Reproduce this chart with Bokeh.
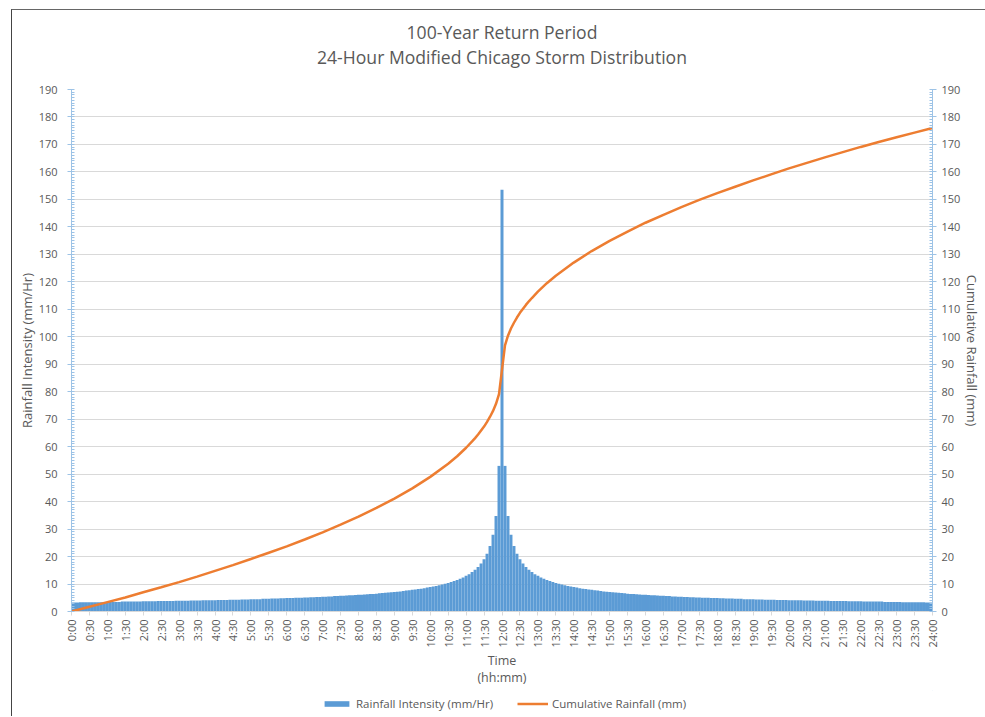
from math import pi
from bokeh.plotting import figure
from bokeh.layouts import column
from bokeh.models import (Range1d, LinearAxis, FixedTicker, SingleIntervalTicker, Div,
                          Legend, LegendItem, ColumnDataSource)
from bokeh.embed import file_html
from bokeh.resources import INLINE

# ---------------- data ----------------
# 5-minute rainfall intensity (mm/Hr), 0:00 .. 11:55
intensity_before = [
    3.3, 3.3, 3.3, 3.4, 3.4, 3.4, 3.4, 3.4, 3.4, 3.4, 3.4,
    3.5, 3.5, 3.5, 3.5, 3.5, 3.5,
    3.6, 3.6, 3.6, 3.6, 3.6, 3.6, 3.6,
    3.7, 3.7, 3.7, 3.7, 3.7,
    3.8, 3.8, 3.8, 3.8, 3.8, 3.8,
    3.9, 3.9, 3.9, 3.9, 3.9,
    4.0, 4.0, 4.0, 4.0,
    4.1, 4.1, 4.1, 4.1, 4.1,
    4.2, 4.2, 4.2, 4.2,
    4.3, 4.3, 4.3, 4.3,
    4.4, 4.4, 4.4,
    4.5, 4.5, 4.5, 4.5,
    4.6, 4.6, 4.6,
    4.7, 4.7, 4.7,
    4.8, 4.8,
    4.9, 4.9, 4.9,
    5.0, 5.0, 5.0,
    5.1, 5.1, 5.2, 5.2, 5.3, 5.3, 5.4, 5.4, 5.5, 5.5, 5.6, 5.6, 5.7, 5.7,
    5.8, 5.9, 5.9, 6.0, 6.1, 6.1, 6.2, 6.3, 6.4, 6.4, 6.5, 6.6, 6.7, 6.8,
    6.9, 7.0, 7.1, 7.2, 7.3, 7.5, 7.6, 7.7, 7.9, 8.0, 8.2, 8.3, 8.5, 8.7,
    8.9, 9.1, 9.3, 9.6, 9.8, 10.1, 10.4, 10.7, 11.1, 11.5, 11.9, 12.4,
    13.0, 13.6, 14.4, 15.2, 16.2, 17.5, 19.0, 21.0, 23.8, 27.9, 34.8, 53.0,
]
# peak 5-minute intensity at 12:00
intensity_peak = [153.5]
# 12:05 .. 24:00
intensity_after = [
    53.0, 34.8, 27.9, 23.8, 21.0, 19.0, 17.5, 16.2, 15.2, 14.4, 13.6, 13.0,
    12.4, 11.9, 11.5, 11.1, 10.7, 10.4, 10.1, 9.8, 9.6, 9.3, 9.1, 8.9,
    8.7, 8.5, 8.3, 8.2, 8.0, 7.9, 7.7, 7.6, 7.5, 7.3, 7.2, 7.1,
    7.0, 6.9, 6.8, 6.7, 6.6, 6.5, 6.4, 6.4, 6.3, 6.2, 6.1, 6.1,
    6.0, 5.9, 5.9, 5.8, 5.7, 5.7, 5.6, 5.6, 5.5, 5.5, 5.4, 5.4,
    5.3, 5.3, 5.2, 5.2, 5.1, 5.1,
    5.0, 5.0, 5.0,
    4.9, 4.9, 4.9,
    4.8, 4.8,
    4.7, 4.7, 4.7,
    4.6, 4.6, 4.6,
    4.5, 4.5, 4.5, 4.5,
    4.4, 4.4, 4.4,
    4.3, 4.3, 4.3, 4.3,
    4.2, 4.2, 4.2, 4.2,
    4.1, 4.1, 4.1, 4.1, 4.1,
    4.0, 4.0, 4.0, 4.0,
    3.9, 3.9, 3.9, 3.9, 3.9,
    3.8, 3.8, 3.8, 3.8, 3.8, 3.8,
    3.7, 3.7, 3.7, 3.7, 3.7,
    3.6, 3.6, 3.6, 3.6, 3.6, 3.6, 3.6,
    3.5, 3.5, 3.5, 3.5, 3.5, 3.5,
    3.4, 3.4, 3.4, 3.4, 3.4, 3.4, 3.4, 3.4, 3.3, 3.3, 3.3,
]
intensity = intensity_before + intensity_peak + intensity_after
bar_minutes = [5 * k for k in range(len(intensity))]   # 0:00, 0:05, ... 24:00

# cumulative rainfall (mm)
cum_minutes = [0, 30, 60, 90, 120, 150, 180, 210, 240, 270, 300, 330, 360, 390, 420, 450,
               480, 510, 540, 570, 600, 630, 645, 660, 670, 675, 680, 690, 695, 700, 705,
               710, 715, 720, 725, 730, 735, 740, 745, 750, 760, 765, 770, 780, 795, 810,
               840, 870, 900, 930, 960, 990, 1020, 1050, 1080, 1110, 1140, 1170, 1200, 1230,
               1260, 1290, 1320, 1350, 1380, 1410, 1440]
cum_rain = [0.0, 1.7, 3.4, 5.1, 7.0, 8.8, 10.7, 12.7, 14.8, 16.9, 19.1, 21.4, 23.7, 26.2,
            28.8, 31.6, 34.5, 37.7, 41.1, 44.8, 49.0, 53.8, 56.5, 59.6, 61.9, 63.1, 64.4,
            67.3, 69.0, 70.9, 73.0, 75.6, 79.1, 88.0, 96.9, 100.4, 103.0, 105.1, 107.0,
            108.7, 111.6, 112.9, 114.1, 116.4, 119.5, 122.2, 127.0, 131.2, 134.9, 138.3,
            141.5, 144.4, 147.2, 149.8, 152.3, 154.6, 156.9, 159.1, 161.3, 163.3, 165.3,
            167.2, 169.1, 170.9, 172.6, 174.3, 176.0]

tick_minutes = [30 * i for i in range(49)]
tick_labels = ["0:00", "0:30", "1:00", "1:30", "2:00", "2:30", "3:00", "3:30", "4:00", "4:30",
               "5:00", "5:30", "6:00", "6:30", "7:00", "7:30", "8:00", "8:30", "9:00", "9:30",
               "10:00", "10:30", "11:00", "11:30", "12:00", "12:30", "13:00", "13:30",
               "14:00", "14:30", "15:00", "15:30", "16:00", "16:30", "17:00", "17:30",
               "18:00", "18:30", "19:00", "19:30", "20:00", "20:30", "21:00", "21:30",
               "22:00", "22:30", "23:00", "23:30", "24:00"]

title_lines = ["100-Year Return Period", "24-Hour Modified Chicago Storm Distribution"]
series_names = ["Rainfall Intensity (mm/Hr)", "Cumulative Rainfall (mm)"]

# ---------------- style ----------------
FONT = "Open Sans"
TXT = "#595959"
AXBLUE = "#9DC3E6"
BAR = "#5B9BD5"
ORANGE = "#ED7D31"
W = 973

# title block
head = Div(text=("<div style=\"width:%dpx;padding:10px 0 0 7px;box-sizing:border-box;"
                 "text-align:center;font-family:'Open Sans';font-size:17.6px;"
                 "line-height:25px;color:%s;white-space:nowrap;\">%s</div>")
                % (W, TXT, "<br>".join(title_lines)),
           width=W, height=71, margin=0)

p = figure(width=W, height=609, output_backend="svg", toolbar_location=None, title=None,
           x_range=Range1d(0, 1440), y_range=Range1d(0, 190),
           min_border_left=59, min_border_right=53, min_border_top=8, min_border_bottom=79)
p.extra_y_ranges = {"cum": Range1d(0, 190)}
p.outline_line_color = None
p.background_fill_color = "white"
p.border_fill_color = "white"

bars = p.vbar(x=bar_minutes, top=intensity, width=5, bottom=0,
              fill_color=BAR, line_color=None)
src_c = ColumnDataSource(dict(x=cum_minutes, y=cum_rain))
line = p.line("x", "y", source=src_c, y_range_name="cum", line_color=ORANGE, line_width=2.5)

# grid
p.xgrid.visible = False
p.ygrid.grid_line_color = "#D9D9D9"
p.ygrid.grid_line_width = 1
p.ygrid.ticker = SingleIntervalTicker(interval=10)

def style_y(ax, title, standoff, label_standoff):
    ax.ticker = SingleIntervalTicker(interval=10, num_minor_ticks=10)
    ax.axis_line_color = AXBLUE
    ax.major_tick_line_color = AXBLUE
    ax.minor_tick_line_color = AXBLUE
    ax.major_tick_out = 4
    ax.major_tick_in = 2
    ax.minor_tick_out = 0
    ax.minor_tick_in = 3
    ax.major_label_text_font = FONT
    ax.major_label_text_font_size = "11px"
    ax.major_label_text_color = TXT
    ax.major_label_standoff = standoff
    ax.axis_label = title
    ax.axis_label_text_font = FONT
    ax.axis_label_text_font_size = "13px"
    ax.axis_label_text_font_style = "normal"
    ax.axis_label_text_color = TXT
    ax.axis_label_standoff = label_standoff

style_y(p.yaxis[0], "Rainfall Intensity (mm/Hr)", 10, 0)
right = LinearAxis(y_range_name="cum")
style_y(right, "Cumulative Rainfall (mm)", 5, 0)
p.add_layout(right, "right")

xa = p.xaxis[0]
xa.ticker = FixedTicker(ticks=tick_minutes)
xa.major_label_overrides = {t: l for t, l in zip(tick_minutes, tick_labels)}
xa.major_label_orientation = pi / 2
xa.major_label_text_font = FONT
xa.major_label_text_font_size = "11px"
xa.major_label_text_color = TXT
xa.major_label_standoff = 4
xa.axis_line_color = "#D9D9D9"
xa.major_tick_line_color = "#D9D9D9"
xa.major_tick_out = 4
xa.major_tick_in = 0
xa.minor_tick_line_color = None
xa.axis_label = "Time\n(hh:mm)"
xa.axis_label_text_font = FONT
xa.axis_label_text_font_size = "12.5px"
xa.axis_label_text_font_style = "normal"
xa.axis_label_text_color = TXT
xa.axis_label_text_line_height = 1.05
xa.axis_label_standoff = 1

# legend strip below the chart (proxy glyphs sit outside the strip's ranges)
lg = figure(width=W, height=26, output_backend="svg", toolbar_location=None, title=None,
            x_range=Range1d(0, 1), y_range=Range1d(0, 1),
            x_axis_type=None, y_axis_type=None,
            min_border_left=0, min_border_right=0, min_border_top=0, min_border_bottom=0)
lg.outline_line_color = None
lg.grid.visible = False
lg_bar = lg.vbar(x=[5], top=[6], bottom=[5], width=1, fill_color=BAR, line_color=None)
lg_line = lg.line(x=[5, 6], y=[5, 5], line_color=ORANGE, line_width=2.5)
legend = Legend(items=[LegendItem(label=series_names[0], renderers=[lg_bar]),
                       LegendItem(label=series_names[1], renderers=[lg_line])],
                orientation="horizontal", location=(250, 5),
                border_line_color=None, background_fill_alpha=0,
                glyph_width=31, glyph_height=7, label_standoff=4, spacing=24,
                padding=0, margin=0,
                label_text_font=FONT, label_text_font_size="11.5px", label_text_color=TXT)
lg.add_layout(legend, "center")

layout = column(head, p, lg, spacing=0)
layout.styles = {"margin-left": "11px", "margin-top": "9px",
                 "border-left": "1px solid #444444", "border-top": "1px solid #666666"}

open("out.html", "w").write(file_html(layout, INLINE))
